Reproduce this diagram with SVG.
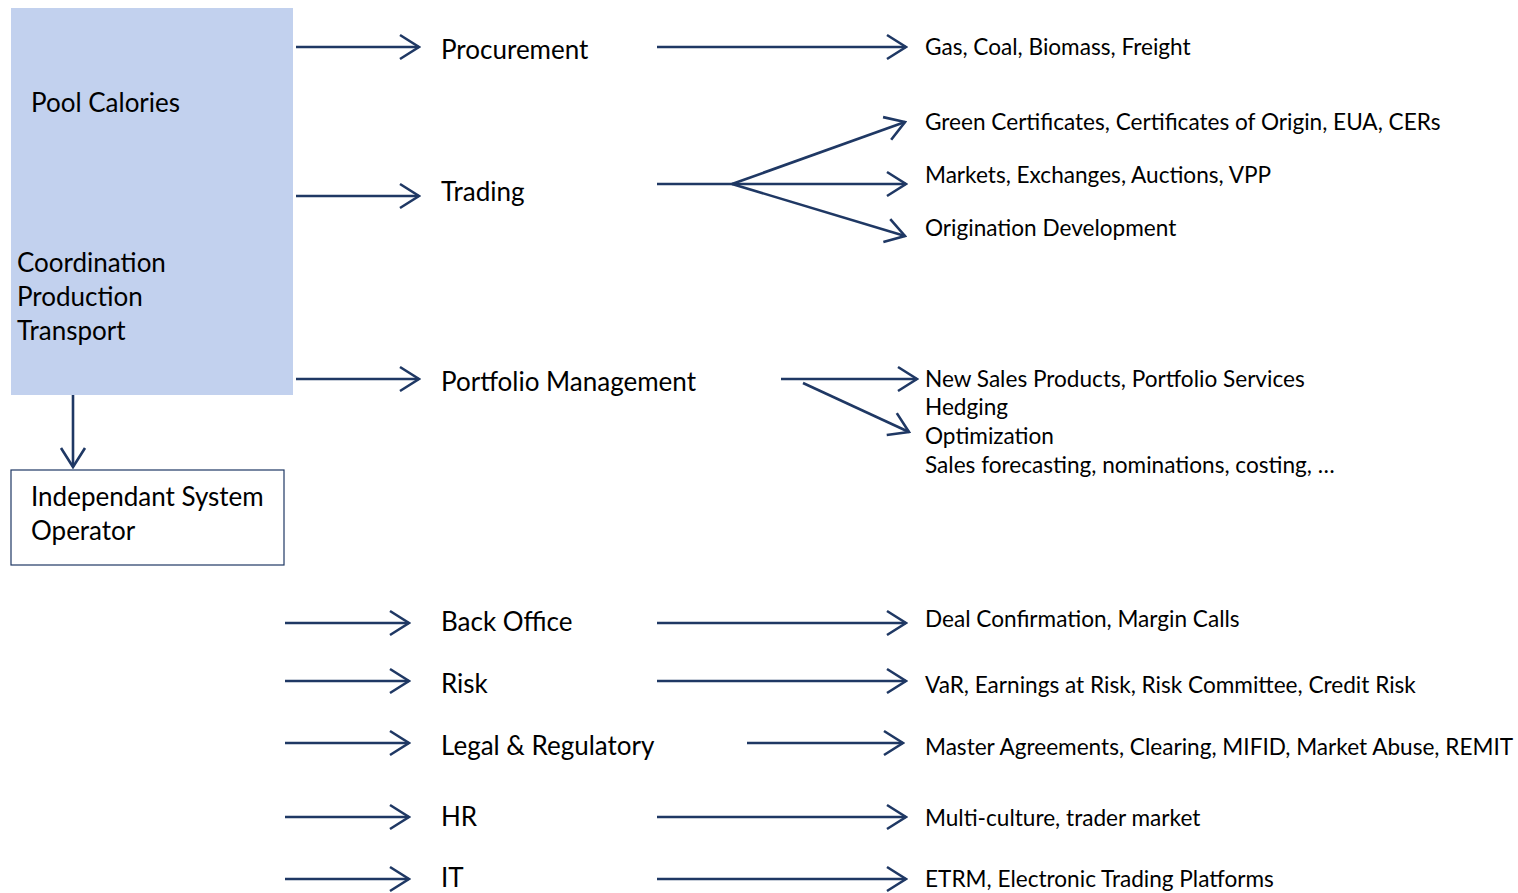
<svg xmlns="http://www.w3.org/2000/svg" width="1518" height="893" viewBox="0 0 1518 893">
  <style>
    .lbl { font-family: Lato, "Liberation Sans", sans-serif; fill: #000; }
    .main { font-size: 26px; }
    .sub { font-size: 22.6px; }
    .box { font-size: 26px; }
    .conn { stroke: #1f3864; stroke-width: 2.6; fill: none; }
  </style>
  <defs>
    <marker id="head" viewBox="-22 -14 24 28" refX="0" refY="0" markerWidth="24" markerHeight="28" markerUnits="userSpaceOnUse" orient="auto">
      <path d="M-19,-12 L0,0 L-19,12" fill="none" stroke="#1f3864" stroke-width="2.6" stroke-linejoin="miter"/>
    </marker>
  </defs>
  <rect width="1518" height="893" fill="#fff"/>

  <!-- central pool block -->
  <g id="pool">
    <rect x="11" y="8" width="282" height="387" fill="#c2d1ee"/>
    <text class="lbl box" x="31" y="112">Pool Calories</text>
    <text class="lbl box" x="17" y="272">Coordination</text>
    <text class="lbl box" x="17" y="306">Production</text>
    <text class="lbl box" x="17" y="340">Transport</text>
  </g>

  <g id="iso">
    <rect x="11" y="470" width="273" height="95" fill="#fff" stroke="#1f3864" stroke-width="1.2"/>
    <text class="lbl box" x="31" y="506">Independant System</text>
    <text class="lbl box" x="31" y="540">Operator</text>
  </g>

  <!-- activity labels -->
  <g id="procurement"><text class="lbl main" x="441" y="59">Procurement</text></g>
  <g id="trading"><text class="lbl main" x="441" y="201">Trading</text></g>
  <g id="portfolio"><text class="lbl main" x="441" y="391">Portfolio Management</text></g>
  <g id="backoffice"><text class="lbl main" x="441" y="631">Back Office</text></g>
  <g id="risk"><text class="lbl main" x="441" y="693">Risk</text></g>
  <g id="legal"><text class="lbl main" x="441" y="755">Legal &amp; Regulatory</text></g>
  <g id="hr"><text class="lbl main" x="441" y="826">HR</text></g>
  <g id="it"><text class="lbl main" x="441" y="887">IT</text></g>

  <!-- detail labels -->
  <g id="procurement-detail"><text class="lbl sub" x="925" y="55">Gas, Coal, Biomass, Freight</text></g>
  <g id="trading-green"><text class="lbl sub" x="925" y="130">Green Certificates, Certificates of Origin, EUA, CERs</text></g>
  <g id="trading-markets"><text class="lbl sub" x="925" y="183">Markets, Exchanges, Auctions, VPP</text></g>
  <g id="trading-origination"><text class="lbl sub" x="925" y="236">Origination Development</text></g>
  <g id="portfolio-detail">
    <text class="lbl sub" x="925" y="387">New Sales Products, Portfolio Services</text>
    <text class="lbl sub" x="925" y="415">Hedging</text>
    <text class="lbl sub" x="925" y="444">Optimization</text>
    <text class="lbl sub" x="925" y="473">Sales forecasting, nominations, costing, …</text>
  </g>
  <g id="backoffice-detail"><text class="lbl sub" x="925" y="627">Deal Confirmation, Margin Calls</text></g>
  <g id="risk-detail"><text class="lbl sub" x="925" y="693">VaR, Earnings at Risk, Risk Committee, Credit Risk</text></g>
  <g id="legal-detail"><text class="lbl sub" x="925" y="755">Master Agreements, Clearing, MIFID, Market Abuse, REMIT</text></g>
  <g id="hr-detail"><text class="lbl sub" x="925" y="826">Multi-culture, trader market</text></g>
  <g id="it-detail"><text class="lbl sub" x="925" y="887">ETRM, Electronic Trading Platforms</text></g>

  <!-- connectors -->
  <g id="connectors" class="conn" marker-end="url(#head)">
    <line x1="73" y1="395" x2="73" y2="467"/>
    <line x1="296" y1="47" x2="419" y2="47"/>
    <line x1="296" y1="196" x2="419" y2="196"/>
    <line x1="296" y1="379" x2="419" y2="379"/>

    <line x1="657" y1="47" x2="906" y2="47"/>
    <line x1="657" y1="184" x2="906" y2="184"/>
    <line x1="732" y1="184" x2="905" y2="122"/>
    <line x1="732" y1="184" x2="905" y2="236"/>
    <line x1="781" y1="379" x2="917" y2="379"/>
    <line x1="803" y1="383" x2="909" y2="432"/>

    <line x1="285" y1="623" x2="409" y2="623"/>
    <line x1="285" y1="681" x2="409" y2="681"/>
    <line x1="285" y1="743" x2="409" y2="743"/>
    <line x1="285" y1="817" x2="409" y2="817"/>
    <line x1="285" y1="879" x2="409" y2="879"/>

    <line x1="657" y1="623" x2="906" y2="623"/>
    <line x1="657" y1="681" x2="906" y2="681"/>
    <line x1="747" y1="743" x2="903" y2="743"/>
    <line x1="657" y1="817" x2="906" y2="817"/>
    <line x1="657" y1="879" x2="906" y2="879"/>
  </g>
</svg>
